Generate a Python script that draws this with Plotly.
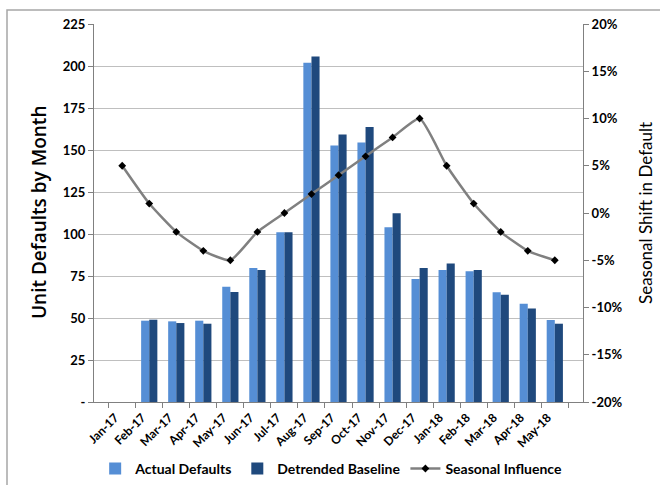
import plotly.graph_objects as go

months = ["Jan-17", "Feb-17", "Mar-17", "Apr-17", "May-17", "Jun-17", "Jul-17",
          "Aug-17", "Sep-17", "Oct-17", "Nov-17", "Dec-17", "Jan-18", "Feb-18",
          "Mar-18", "Apr-18", "May-18"]
actual_defaults = [None, 48.4, 48.0, 48.4, 68.6, 79.8, 101.0, 202.0, 152.7, 154.5,
                   104.0, 73.2, 78.6, 77.8, 65.3, 58.5, 48.8]
detrended_baseline = [None, 49.0, 47.0, 46.6, 65.5, 78.6, 101.0, 205.7, 159.3, 163.7,
                      112.3, 79.8, 82.5, 78.6, 63.9, 55.7, 46.6]
seasonal_influence = [0.05, 0.01, -0.02, -0.04, -0.05, -0.02, 0.0, 0.02, 0.04, 0.06,
                      0.08, 0.10, 0.05, 0.01, -0.02, -0.04, -0.05]

left_ticks = [0, 25, 50, 75, 100, 125, 150, 175, 200, 225]
left_labels = ["-"] + [str(v) for v in left_ticks[1:]]
right_ticks = [-0.20, -0.15, -0.10, -0.05, 0.0, 0.05, 0.10, 0.15, 0.20]
right_labels = ["-20%", "-15%", "-10%", "-5%", "0%", "5%", "10%", "15%", "20%"]

FONT = "Lato, Open Sans, sans-serif"
tick_font = dict(family=FONT, size=13, color="#000000", weight="bold")

fig = go.Figure()
fig.add_trace(go.Bar(x=months, y=actual_defaults, name="Actual Defaults",
                     marker=dict(color="#558ED5", line=dict(width=0))))
fig.add_trace(go.Bar(x=months, y=detrended_baseline, name="Detrended Baseline",
                     marker=dict(color="#1F497D", line=dict(width=0))))
fig.add_trace(go.Scatter(x=months, y=seasonal_influence, name="Seasonal Influence",
                         yaxis="y2", mode="lines+markers",
                         line=dict(color="#808080", width=2.5, shape="spline", smoothing=0.5),
                         marker=dict(symbol="diamond", color="#000000", size=6)))

fig.update_layout(
    width=660, height=485,
    margin=dict(l=94, r=77, t=24, b=83, autoexpand=False),
    paper_bgcolor="white", plot_bgcolor="white",
    barmode="group", bargap=0.4, bargroupgap=0.0,
    font=dict(family=FONT, color="#000000"),
    showlegend=True,
    legend=dict(orientation="h", x=0.485, xanchor="center", y=-0.177, yanchor="middle",
                font=dict(family=FONT, size=14, color="#000000", weight="bold"),
                itemwidth=30, tracegroupgap=0, traceorder="normal"),
    xaxis=dict(type="category", tickangle=-45, automargin=False,
               tickfont=dict(family=FONT, size=12, color="#000000", weight="bold"),
               ticklabelshift=-7, ticklabelstandoff=3,
               ticks="outside", ticklen=5, tickcolor="#808080", tickson="boundaries",
               showline=True, linecolor="#808080", linewidth=1, showgrid=False),
    yaxis=dict(range=[0, 225], tickvals=left_ticks, ticktext=left_labels, automargin=False,
               tickfont=tick_font, ticks="outside", ticklen=5, tickcolor="#808080",
               showline=True, linecolor="#808080", linewidth=1,
               showgrid=True, gridcolor="#BFBFBF", gridwidth=1, zeroline=False),
    yaxis2=dict(range=[-0.20, 0.20], tickvals=right_ticks, ticktext=right_labels,
                automargin=False,
                tickfont=tick_font, overlaying="y", side="right",
                ticks="outside", ticklen=5, tickcolor="#808080",
                showline=True, linecolor="#808080", linewidth=1,
                showgrid=False, zeroline=False),
    annotations=[
        dict(text="Unit Defaults by Month", textangle=-90, xref="paper", yref="paper",
             x=(39 - 94) / 489, y=(402 - 213) / 378, xanchor="center", yanchor="middle",
             showarrow=False,
             font=dict(family="Open Sans", size=19, color="#000000", weight=600)),
        dict(text="Seasonal Shift in Default", textangle=-90, xref="paper", yref="paper",
             x=(645 - 94) / 489, y=(402 - 213) / 378, xanchor="center", yanchor="middle",
             showarrow=False,
             font=dict(family=FONT, size=17, color="#000000")),
    ],
    shapes=[
        dict(type="rect", xref="paper", yref="paper",
             x0=(7 - 94) / 489, x1=1.3, y0=-0.4, y1=(402 - 10) / 378,
             line=dict(color="#A6A6A6", width=1.5), fillcolor="rgba(0,0,0,0)", layer="below"),
    ],
)

fig.write_html("out.html")
